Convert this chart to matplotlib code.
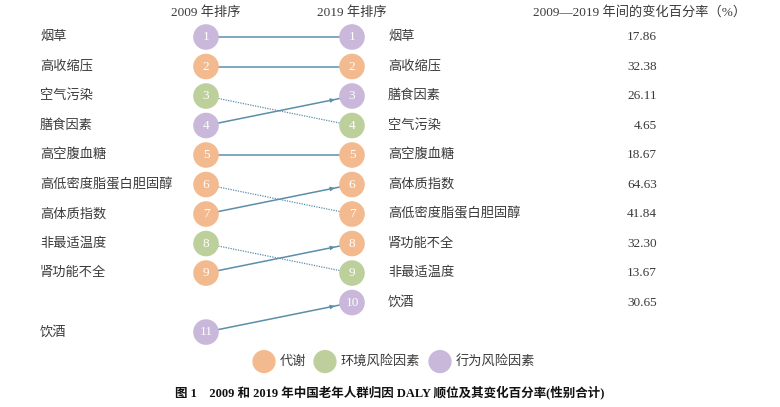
import matplotlib.pyplot as plt

# data
factors = ['烟草', '高收缩压', '空气污染', '膳食因素', '高空腹血糖', '高低密度脂蛋白胆固醇',
           '高体质指数', '非最适温度', '肾功能不全', '饮酒']
rank_2009 = [1, 2, 3, 4, 5, 6, 7, 8, 9, 11]
rank_2019 = [1, 2, 4, 3, 5, 7, 6, 9, 8, 10]
change_pct = [17.86, 32.38, 4.65, 26.11, 18.67, 41.84, 64.63, 13.67, 32.30, 30.65]
category = ['行为', '代谢', '环境', '行为', '代谢', '代谢', '代谢', '环境', '代谢', '行为']

cat_names = ['代谢', '环境风险因素', '行为风险因素']
cat_colors = {'代谢': '#F4BA8F', '环境': '#BDD09C', '行为': '#C9B8D9'}
line_col = '#5B8EA8'

plt.rcParams['font.family'] = ['Liberation Serif', 'Noto Sans CJK SC']

fig = plt.figure(figsize=(7.8, 4.07), dpi=100)
ax = fig.add_axes([0, 0, 1, 1])
ax.set_xlim(0, 780)
ax.set_ylim(13.54, -0.254)
ax.axis('off')

xl, xr = 206, 352
txt_col = '#3a3a3a'

# headers
ax.text(xl, 0.16, '2009 年排序', ha='center', va='center', fontsize=9.5, color=txt_col)
ax.text(xr, 0.16, '2019 年排序', ha='center', va='center', fontsize=9.5, color=txt_col)
ax.text(640, 0.16, '2009—2019 年间的变化百分率（%）', ha='center', va='center', fontsize=9.5, color=txt_col)

for name, r0, r1, v, c in zip(factors, rank_2009, rank_2019, change_pct, category):
    if r1 <= r0:
        ax.plot([xl, xr], [r0, r1], color=line_col, lw=1.1, zorder=1)
        if r1 < r0:
            ax.annotate('', xy=(xl + 0.9 * (xr - xl), r0 + 0.9 * (r1 - r0)),
                        xytext=(xl + 0.85 * (xr - xl), r0 + 0.85 * (r1 - r0)),
                        arrowprops=dict(arrowstyle='-|>', color=line_col, lw=0.8,
                                        mutation_scale=6), zorder=2)
    else:
        ax.plot([xl, xr], [r0, r1], color=line_col, lw=0.9, ls=(0, (1, 1)), zorder=1)
    col = cat_colors[c]
    ax.scatter([xl, xr], [r0, r1], s=340, color=col, edgecolors='none', zorder=3)
    ax.text(xl, r0, str(r0), ha='center', va='center', color='white', fontsize=9.5, zorder=4)
    ax.text(xr, r1, str(r1), ha='center', va='center', color='white', fontsize=9.5, zorder=4)
    ax.text(40, r0, name, ha='left', va='center', fontsize=9.5, color=txt_col)
    ax.text(388, r1, name, ha='left', va='center', fontsize=9.5, color=txt_col)
    ax.text(657, r1, f'{v:.2f}', ha='right', va='center', fontsize=9.5, color=txt_col)

# legend
leg_x = [264, 325, 440]
for x, nm, c in zip(leg_x, cat_names, ['代谢', '环境', '行为']):
    ax.scatter([x], [12.0], s=280, color=cat_colors[c], edgecolors='none')
    ax.text(x + 16, 12.0, nm, ha='left', va='center', fontsize=9.5, color=txt_col)

ax.text(390, 13.04, '图 1　2009 和 2019 年中国老年人群归因 DALY 顺位及其变化百分率(性别合计)',
        ha='center', va='center', fontsize=9, fontweight='bold', color='#111111')

fig.savefig('out.png', dpi=100)
